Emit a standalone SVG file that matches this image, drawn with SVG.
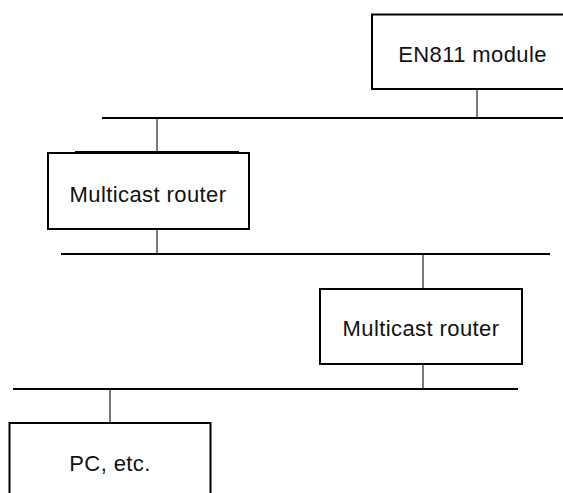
<svg xmlns="http://www.w3.org/2000/svg" width="563" height="493" viewBox="0 0 563 493">
<style>
.box{fill:#fff;stroke:#000;stroke-width:2}
.bus{stroke:#000;stroke-width:2.2;fill:none}
.drop{stroke:#222;stroke-width:1.2;fill:none}
.lbl{font-family:"Liberation Sans",Arial,sans-serif;font-size:22px;fill:#111;text-anchor:middle;letter-spacing:0.4px}
</style>
<rect width="563" height="493" fill="#fff"/>
<g id="connectors">
<line class="bus" x1="102" y1="118" x2="563" y2="118"/>
<line class="bus" x1="61" y1="254" x2="550" y2="254"/>
<line class="bus" x1="13" y1="389" x2="518" y2="389"/>
<line class="drop" x1="477" y1="89" x2="477" y2="118"/>
<line class="drop" x1="157" y1="118" x2="157" y2="153"/>
<line class="drop" x1="157" y1="229" x2="157" y2="254"/>
<line class="drop" x1="423" y1="254" x2="423" y2="289"/>
<line class="drop" x1="423" y1="364" x2="423" y2="389"/>
<line class="drop" x1="110" y1="389" x2="110" y2="423"/>
</g>
<g id="en811">
<rect class="box" x="372" y="14.5" width="200" height="74.5"/>
<text class="lbl" x="472.5" y="61.5">EN811 module</text>
</g>
<g id="router1">
<rect class="box" x="48" y="153" width="201" height="76"/>
<line x1="75" y1="152.5" x2="239" y2="152.5" stroke="#000" stroke-width="3"/>
<text class="lbl" x="148" y="201.5">Multicast router</text>
</g>
<g id="router2">
<rect class="box" x="320" y="289" width="202" height="75"/>
<text class="lbl" x="421" y="336">Multicast router</text>
</g>
<g id="pc">
<rect class="box" x="9.5" y="423" width="201" height="80"/>
<text class="lbl" x="110" y="470.5">PC, etc.</text>
</g>
</svg>
